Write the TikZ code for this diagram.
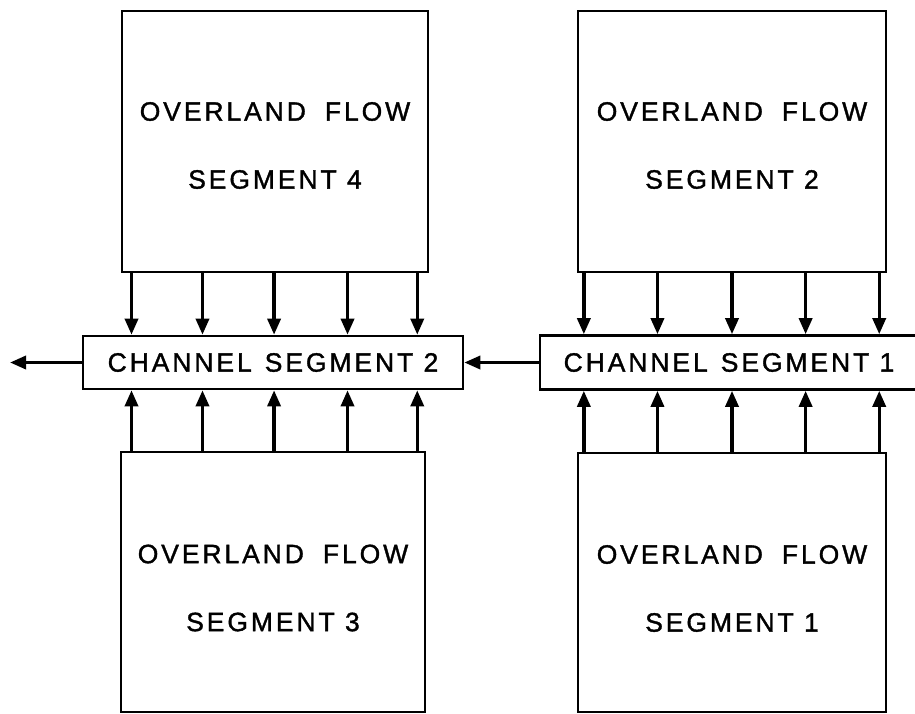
\documentclass[tikz,border=0pt]{standalone}
\usepackage{fontspec}
\setmainfont{Liberation Sans}[LetterSpace=11,FakeBold=1.3]
\usetikzlibrary{arrows.meta,calc}
\tikzset{
  segbox/.style={draw,line width=2.6pt,inner sep=0pt,align=center,
    font=\fontsize{26.5}{30}\selectfont},
  segtext/.style={inner sep=0pt,align=center,font=\fontsize{26.5}{30}\selectfont},
  flow/.style={line width=3.4pt,-{Triangle[length=16pt,width=13pt]}},
}
\newcommand{\wgap}{\hspace{13pt}}
\newcommand{\ofgap}{\hspace{19pt}}
\begin{document}
\begin{tikzpicture}[x=1pt,y=-1pt]
\useasboundingbox (0,0) rectangle (915,713);
\clip (0,0) rectangle (915,713);
% overland flow segments
\node[segbox,minimum width=306pt,minimum height=261pt] (of4) at (275,141.5) {};
\node[segbox,minimum width=308pt,minimum height=261pt] (of2) at (732,141.5) {};
\node[segbox,minimum width=304pt,minimum height=260pt] (of3) at (273,582) {};
\node[segbox,minimum width=308pt,minimum height=259pt] (of1) at (732,582.5) {};
\node[segtext] (of4t) at ($(of4)+(0,4)$) {OVERLAND\ofgap FLOW\\[38pt]SEGMENT 4};
\node[segtext] (of2t) at ($(of2)+(0,4)$) {OVERLAND\ofgap FLOW\\[38pt]SEGMENT 2};
\node[segtext] (of3t) at ($(of3)+(0,6)$) {OVERLAND\ofgap FLOW\\[38pt]SEGMENT 3};
\node[segtext] (of1t) at ($(of1)+(0,6)$) {OVERLAND\ofgap FLOW\\[38pt]SEGMENT 1};
% channel segments
\node[segbox,minimum width=380pt,minimum height=53pt] (ch2) at (273,362.5) {CHANNEL\wgap SEGMENT 2};
\node[segbox,minimum width=378pt,minimum height=54pt] (ch1) at (729,362.5) {CHANNEL\wgap SEGMENT 1};
% lateral inflow
\foreach \f in {0.035,0.265,0.497,0.735,0.961}{
  \coordinate (p) at ($(of4.south west)!\f!(of4.south east)$);
  \draw[flow] (p) -- (p |- ch2.north);
  \draw[flow] (p |- of3.north) -- (p |- ch2.south);
}
\foreach \f in {0.023,0.26,0.5,0.737,0.974}{
  \coordinate (p) at ($(of2.south west)!\f!(of2.south east)$);
  \draw[flow] (p) -- (p |- ch1.north);
  \draw[flow] (p |- of1.north) -- (p |- ch1.south);
}
% channel flow
\coordinate (outlet) at (10,362.5);
\draw[flow] (ch1.west) -- (ch2.east);
\draw[flow] (ch2.west) -- (outlet);
\end{tikzpicture}
\end{document}
